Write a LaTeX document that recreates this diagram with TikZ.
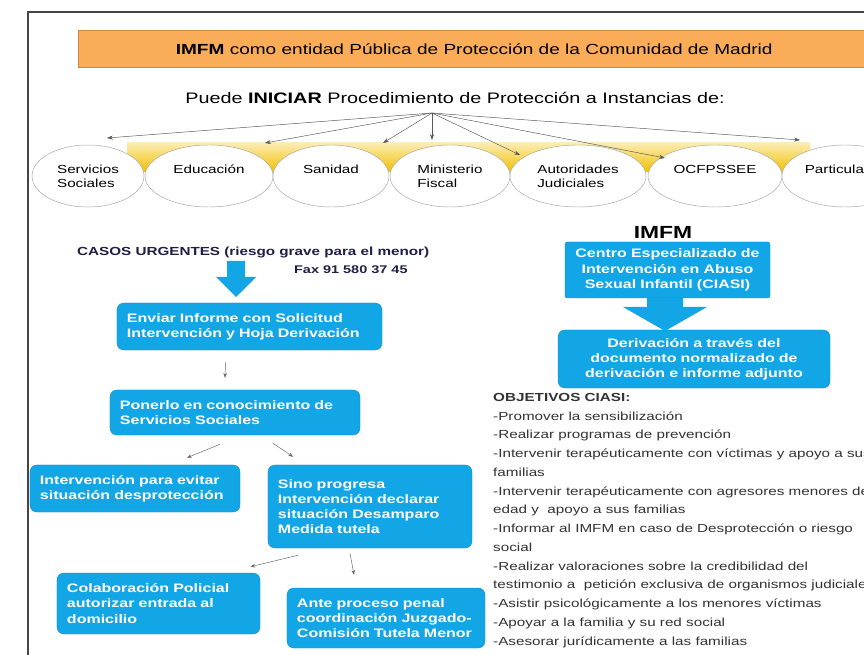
\documentclass[tikz,border=0pt]{standalone}
\usepackage{fontspec}
\setmainfont{Liberation Sans}[FakeStretch=1.3]
\usetikzlibrary{shapes.geometric,arrows.meta}

\definecolor{boxblue}{RGB}{18,166,230}
\definecolor{bannerorange}{RGB}{250,172,88}
\definecolor{bandyellow}{RGB}{242,192,0}
\definecolor{navy}{RGB}{30,30,70}

\begin{document}
\begin{tikzpicture}[x=0.03cm, y=-0.03cm,
    bluebox/.style={draw=boxblue!85!black, fill=boxblue, rounded corners=6pt, text=white,
      font=\bfseries\fontsize{10.5}{13}\selectfont, align=left, inner xsep=0.3cm},
    circlenode/.style={ellipse, draw=gray!70, fill=white, minimum height=1.86cm,
      font=\fontsize{10}{12}\selectfont, align=left, inner sep=1pt},
    fanarrow/.style={-{Stealth[length=5pt,width=3.5pt]}, black!65, thin},
    thinarrow/.style={-{Stealth[length=4pt,width=3pt]}, gray!80!black, thin}]
    \clip (0,0) rectangle (864,655);
    \fill[white] (0,0) rectangle (864,655);
    % frame and title
    \draw[line width=2.5pt, gray!55!black] (28,12) rectangle (900,700);
    \node[draw=bannerorange!80!black, fill=bannerorange, minimum width=23.76cm, minimum height=1.11cm,
      anchor=north west, font=\fontsize{12.5}{14}\selectfont] (banner) at (78,30)
      {\textbf{IMFM} como entidad Pública de Protección de la Comunidad de Madrid};
    \node[font=\fontsize{13}{15}\selectfont] (puede) at (455,98)
      {Puede \textbf{INICIAR} Procedimiento de Protección a Instancias de:};
    \coordinate (fan) at (432,113);

    % yellow band behind the ellipses
    \shade[top color=bandyellow!30, bottom color=bandyellow] (127,143) rectangle (810,172);

    \node[circlenode, minimum width=3.36cm] (ss) at (88,176) {Servicios\\Sociales};
    \node[circlenode, minimum width=3.84cm] (edu) at (209,176) {Educación\\\mbox{}};
    \node[circlenode, minimum width=3.48cm] (san) at (331,176) {Sanidad\\\mbox{}};
    \node[circlenode, minimum width=3.6cm] (fis) at (450,176) {Ministerio\\Fiscal};
    \node[circlenode, minimum width=4.08cm] (jud) at (578,176) {Autoridades\\Judiciales};
    \node[circlenode, minimum width=4.02cm] (ocf) at (715,176) {OCFPSSEE\\\mbox{}};
    \node[circlenode, minimum width=3.78cm] (par) at (845,176) {Particulares\\\mbox{}};

    \foreach \n/\tx/\ty in {1/107/138, 2/265/143, 3/383/143, 4/432/140, 5/520/155, 6/665/158, 7/800/140}{
      \coordinate (tip\n) at (\tx,\ty);
      \draw[fanarrow] (fan) -- (tip\n);
    }

    % urgent cases
    \node[anchor=west, text=navy, font=\bfseries\fontsize{10}{12}\selectfont] (casos) at (73,252)
      {CASOS URGENTES (riesgo grave para el menor)};
    \node[anchor=west, text=navy, font=\bfseries\fontsize{9.5}{11}\selectfont] (fax) at (290,270) {Fax 91 580 37 45};
    \fill[boxblue] (227,261) -- (245,261) -- (245,277) -- (256,277) -- (236,297) -- (216,277) -- (227,277) -- cycle;

    \node[bluebox, text width=7.35cm, minimum height=1.41cm] (enviar) at (249.5,326.5)
      {Enviar Informe con Solicitud\\Intervención y Hoja Derivación};
    \node[bluebox, text width=6.9cm, minimum height=1.35cm] (ponerlo) at (235,412.5)
      {Ponerlo en conocimiento de\\Servicios Sociales};
    \node[bluebox, text width=5.7cm, minimum height=1.41cm] (evitar) at (135,488.5)
      {Intervención para evitar\\situación desprotección};
    \node[bluebox, text width=5.52cm, minimum height=2.49cm] (sino) at (370,506.5)
      {Sino progresa\\Intervención declarar\\situación Desamparo\\Medida tutela};
    \node[bluebox, text width=5.49cm, minimum height=1.83cm] (policial) at (158.5,603.5)
      {Colaboración Policial\\autorizar entrada al\\domicilio};
    \node[bluebox, text width=5.34cm, minimum height=1.8cm] (penal) at (386,618)
      {Ante proceso penal\\coordinación Juzgado-\\Comisión Tutela Menor};

    \draw[thinarrow] ([shift={(-24,12)}]enviar.south) -- ([shift={(-10,-12)}]ponerlo.north);
    \draw[thinarrow] ([shift={(-15,9)}]ponerlo.south) -- ([shift={(52,-7)}]evitar.north);
    \draw[thinarrow] ([shift={(38,8)}]ponerlo.south) -- ([shift={(-77,-8)}]sino.north);
    \draw[thinarrow] ([shift={(-72,7)}]sino.south) -- ([shift={(92,-6)}]policial.north);
    \draw[thinarrow] ([shift={(-20,5)}]sino.south) -- ([shift={(-32,-13)}]penal.north);

    % CIASI
    \node[font=\bfseries\fontsize{15}{16}\selectfont] (imfm) at (663,232) {IMFM};
    \node[bluebox, rounded corners=2pt, align=center, text width=5.55cm, minimum height=1.68cm] (ciasi) at (667.5,270)
      {Centro Especializado de\\Intervención en Abuso\\Sexual Infantil (CIASI)};
    \node[bluebox, align=center, text width=7.56cm, minimum height=1.74cm] (deriv) at (694,359)
      {Derivación a través del\\documento normalizado de\\derivación e informe adjunto};
    \fill[boxblue] (647,298) -- (683,298) -- (683,307) -- (707,307) -- (665,331) -- (623,307) -- (647,307) -- cycle;

    \node[anchor=north west, align=left, inner sep=0pt, text=black!80, font=\fontsize{10}{16}\selectfont] (objetivos) at (493,393)
      {\textbf{OBJETIVOS CIASI:}\\
       -Promover la sensibilización\\
       -Realizar programas de prevención\\
       -Intervenir terapéuticamente con víctimas y apoyo a sus\\
       familias\\
       -Intervenir terapéuticamente con agresores menores de\\
       edad y\ \ apoyo a sus familias\\
       -Informar al IMFM en caso de Desprotección o riesgo\\
       social\\
       -Realizar valoraciones sobre la credibilidad del\\
       testimonio a\ \ petición exclusiva de organismos judiciales\\
       -Asistir psicológicamente a los menores víctimas\\
       -Apoyar a la familia y su red social\\
       -Asesorar jurídicamente a las familias};
\end{tikzpicture}
\end{document}
